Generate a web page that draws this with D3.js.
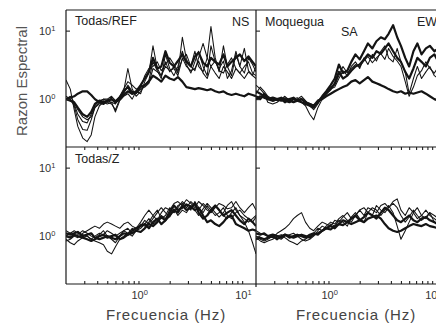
<!DOCTYPE html>
<html>
<head>
<meta charset="utf-8">
<script src="https://cdn.jsdelivr.net/npm/d3@7"></script>
<style>
body { margin: 0; background: #fff; }
svg { display: block; }
</style>
</head>
<body>
<script>
// frecuencias (Hz) comunes a todas las curvas
let frecuencias = [0.20, 0.22, 0.24, 0.26, 0.29, 0.32, 0.35, 0.38, 0.42, 0.46, 0.50, 0.55, 0.60, 0.66, 0.72, 0.79, 0.87, 0.95,
    1.05, 1.15, 1.26, 1.38, 1.52, 1.66, 1.82, 2.0, 2.2, 2.4, 2.65, 2.9, 3.2, 3.5, 3.8, 4.2, 4.6, 5.0, 5.5, 6.0, 6.6, 7.2,
    7.9, 8.7, 9.5, 10.5, 11.5, 12.6, 13.6];

// Todas/REF  (NS)
let ref1 = [1.9, 1.4, 0.7, 0.4, 0.27, 0.24, 0.3, 0.55, 0.8, 0.9, 0.85, 0.9, 0.65, 0.95, 1.1, 1.2, 1.0, 1.3, 1.2, 1.8, 2.4, 6.0, 2.8, 2.2, 3.5, 2.5, 3.0, 2.4, 8.0, 3.8, 3.0, 5.0, 3.0, 2.5, 4.0, 11.5, 4.0, 2.5, 6.0, 3.0, 2.2, 4.5, 3.0, 5.5, 2.6, 2.2, 3.0];
let ref2 = [1.1, 1.0, 0.8, 0.5, 0.36, 0.35, 0.5, 0.75, 0.85, 0.95, 0.9, 0.85, 0.7, 1.0, 1.3, 2.8, 1.4, 1.1, 1.3, 1.6, 1.9, 3.5, 2.6, 2.0, 4.5, 2.8, 2.2, 3.0, 5.0, 3.2, 2.4, 3.5, 5.0, 3.0, 2.2, 6.0, 3.5, 2.8, 3.6, 2.0, 2.6, 5.0, 3.0, 2.4, 4.0, 3.2, 2.5];
let ref3 = [1.0, 0.95, 0.85, 0.6, 0.47, 0.45, 0.6, 0.8, 0.95, 1.0, 0.95, 0.9, 0.85, 1.1, 1.2, 1.6, 1.3, 1.2, 1.4, 1.5, 1.7, 2.8, 2.5, 2.2, 3.0, 2.6, 2.8, 2.2, 4.0, 3.0, 2.6, 2.8, 3.6, 2.4, 2.0, 3.0, 2.4, 2.0, 3.0, 2.5, 2.0, 2.8, 2.4, 2.0, 2.5, 2.2, 2.0];
let ref4 = [1.0, 0.95, 0.9, 0.75, 0.6, 0.55, 0.65, 0.85, 0.95, 0.9, 0.95, 1.0, 0.9, 1.05, 1.3, 1.5, 1.2, 1.3, 1.6, 2.0, 2.5, 4.0, 2.8, 3.0, 5.0, 3.4, 3.0, 3.6, 4.5, 3.5, 3.0, 4.2, 4.8, 3.4, 3.0, 4.0, 3.5, 3.2, 4.5, 3.0, 3.5, 4.0, 4.5, 3.6, 4.2, 3.5, 3.0];
let ref5 = [1.0, 1.05, 1.1, 1.2, 1.3, 1.3, 1.15, 1.0, 0.9, 0.85, 0.95, 1.0, 0.9, 1.0, 1.15, 1.3, 1.2, 1.25, 1.5, 1.6, 1.8, 2.2, 2.0, 1.8, 2.2, 2.0, 1.9, 2.1, 1.8, 1.5, 1.45, 1.4, 1.45, 1.4, 1.35, 1.4, 1.3, 1.25, 1.3, 1.2, 1.15, 1.2, 1.15, 1.1, 1.2, 1.15, 1.1];
let ref6 = [1.0, 1.1, 0.9, 0.7, 0.55, 0.5, 0.55, 0.75, 0.9, 1.0, 1.0, 1.1, 0.95, 1.1, 1.4, 1.8, 1.6, 1.4, 1.5, 2.2, 2.8, 3.0, 3.5, 2.6, 3.2, 4.0, 3.2, 2.6, 3.8, 4.5, 3.0, 2.6, 4.0, 6.5, 4.0, 3.0, 3.6, 2.6, 2.4, 3.2, 4.0, 2.8, 2.4, 3.0, 3.5, 2.4, 2.2];

// Moquegua  SA  (EW)
let moq1 = [1.3, 1.2, 1.1, 1.0, 1.05, 1.0, 0.95, 1.0, 0.95, 0.9, 0.95, 1.0, 0.9, 0.85, 0.8, 0.95, 1.0, 1.1, 1.2, 1.3, 1.4, 1.5, 1.6, 1.8, 1.9, 1.7, 1.9, 2.1, 1.8, 1.7, 1.6, 1.5, 1.4, 1.3, 1.25, 1.3, 1.2, 1.25, 1.2, 1.25, 1.3, 1.2, 1.1, 1.0, 0.95, 0.9, 0.85];
let moq2 = [1.0, 1.1, 1.05, 1.0, 0.95, 1.0, 1.05, 0.95, 0.9, 1.0, 0.95, 0.9, 0.85, 0.8, 0.75, 0.9, 1.1, 1.3, 1.6, 2.0, 3.2, 2.4, 2.6, 3.5, 4.5, 3.8, 5.0, 6.5, 5.5, 7.0, 8.0, 7.5, 9.0, 12.0, 8.0, 6.0, 4.0, 3.0, 5.0, 6.5, 4.5, 5.5, 6.0, 5.0, 5.5, 6.0, 5.0];
let moq3 = [1.6, 1.4, 1.2, 0.9, 0.85, 0.9, 1.0, 1.1, 0.95, 1.0, 1.05, 0.9, 0.8, 0.6, 0.5, 0.75, 1.0, 1.2, 1.4, 1.5, 2.0, 2.6, 2.2, 3.0, 3.5, 2.8, 4.0, 3.2, 4.5, 3.6, 5.0, 6.0, 4.0, 3.5, 5.5, 3.5, 2.5, 1.2, 2.0, 3.0, 2.0, 2.5, 3.0, 2.2, 2.0, 2.6, 2.4];
let moq4 = [1.2, 1.5, 1.3, 1.1, 1.0, 0.95, 1.0, 1.05, 1.0, 0.9, 1.0, 1.1, 0.95, 0.8, 0.7, 0.85, 1.1, 1.3, 1.5, 1.6, 2.2, 3.0, 2.4, 2.8, 3.2, 3.0, 3.6, 4.2, 3.4, 4.0, 4.6, 3.8, 5.5, 4.2, 3.6, 3.0, 1.8, 1.1, 1.5, 2.2, 2.6, 3.5, 2.8, 2.4, 3.0, 2.2, 2.0];
let moq5 = [1.1, 1.0, 1.2, 1.05, 0.95, 1.0, 1.0, 0.9, 1.0, 1.05, 0.95, 1.0, 0.9, 0.85, 0.8, 0.9, 1.05, 1.2, 1.4, 1.7, 2.5, 2.0, 2.2, 2.6, 3.0, 3.2, 3.8, 4.5, 4.0, 5.0, 4.6, 5.5, 6.5, 5.0, 4.0, 3.5, 2.5, 2.0, 2.8, 4.0, 3.5, 3.0, 4.0, 4.5, 3.5, 3.0, 3.2];

// Todas/Z
let z1 = [1.1, 1.05, 1.1, 1.15, 1.0, 1.05, 1.1, 0.95, 0.9, 0.95, 1.0, 0.95, 0.9, 1.0, 1.1, 1.05, 1.2, 1.3, 1.4, 1.5, 1.3, 1.6, 1.8, 1.5, 1.7, 2.2, 2.8, 2.4, 2.6, 2.9, 2.7, 2.4, 2.6, 2.0, 1.6, 1.7, 1.5, 1.4, 1.6, 1.9, 2.0, 1.5, 1.4, 1.3, 1.2, 1.25, 1.2];
let z2 = [0.9, 0.8, 0.75, 0.85, 0.95, 1.0, 0.9, 0.85, 0.8, 0.75, 0.6, 0.55, 0.7, 0.9, 1.0, 1.1, 1.0, 1.2, 1.3, 1.5, 1.8, 1.5, 1.7, 2.0, 1.8, 2.4, 2.2, 2.8, 3.0, 2.6, 3.2, 2.8, 2.4, 3.0, 2.6, 2.2, 2.8, 2.4, 2.0, 1.8, 2.2, 2.6, 2.0, 1.6, 1.2, 0.8, 0.55];
let z3 = [1.0, 1.1, 1.0, 0.95, 1.1, 1.2, 1.3, 1.4, 1.3, 1.5, 1.6, 1.5, 1.4, 1.3, 1.5, 1.6, 1.4, 1.3, 1.6, 2.0, 2.4, 2.0, 1.7, 2.2, 2.6, 2.4, 3.0, 3.2, 2.8, 3.4, 3.0, 2.6, 3.2, 2.8, 2.4, 2.2, 2.6, 3.0, 2.8, 2.5, 2.6, 3.2, 2.6, 2.2, 2.6, 3.0, 2.4];
let z4 = [1.2, 1.1, 1.2, 1.1, 1.05, 1.0, 0.9, 1.0, 1.1, 1.05, 1.2, 1.1, 1.0, 1.1, 1.2, 1.1, 1.3, 1.2, 1.5, 1.4, 1.6, 2.0, 2.4, 1.8, 2.0, 2.6, 2.2, 2.6, 3.2, 2.8, 2.4, 3.2, 2.6, 2.2, 2.8, 2.4, 2.0, 2.2, 2.6, 2.0, 1.8, 2.2, 2.4, 2.0, 1.8, 1.6, 1.9];
let z5 = [1.0, 0.95, 1.05, 1.0, 0.95, 0.9, 0.85, 0.9, 1.0, 1.05, 0.95, 1.0, 1.05, 0.9, 0.95, 1.05, 1.1, 1.2, 1.15, 1.3, 1.5, 1.4, 1.6, 1.9, 1.7, 2.0, 2.4, 2.2, 2.8, 2.4, 2.6, 3.0, 2.2, 1.8, 2.0, 2.4, 2.8, 2.4, 2.0, 2.2, 2.4, 2.0, 1.7, 1.5, 1.8, 1.6, 1.4];
let z6 = [0.85, 0.9, 1.0, 1.05, 1.2, 1.1, 1.0, 0.95, 1.05, 1.2, 1.0, 0.9, 0.8, 1.0, 1.2, 1.3, 1.1, 1.2, 1.4, 1.7, 1.5, 1.8, 2.2, 2.6, 2.2, 1.9, 2.5, 2.0, 2.4, 2.2, 2.8, 2.4, 2.0, 2.5, 3.0, 2.6, 2.2, 1.9, 2.2, 2.8, 3.2, 2.4, 2.0, 1.8, 1.6, 1.8, 2.0];

// Moquegua / Z
let mz1 = [1.1, 1.05, 1.1, 1.0, 1.05, 1.0, 0.95, 1.05, 1.0, 0.95, 1.0, 1.05, 1.0, 0.95, 1.05, 1.1, 1.2, 1.3, 1.25, 1.4, 1.5, 1.45, 1.6, 1.5, 1.6, 1.7, 1.6, 1.8, 1.9, 2.0, 1.8, 1.5, 1.3, 1.2, 1.15, 1.2, 1.3, 1.4, 1.5, 1.45, 1.4, 1.5, 1.4, 1.35, 1.3, 1.4, 1.3];
let mz2 = [1.2, 1.1, 1.05, 1.0, 0.95, 1.1, 1.2, 1.3, 1.5, 1.8, 2.0, 2.2, 1.6, 1.3, 1.2, 1.4, 1.6, 1.5, 1.4, 1.7, 1.6, 1.9, 2.2, 1.8, 2.0, 2.4, 2.0, 2.6, 2.4, 2.2, 2.8, 3.0, 2.6, 3.2, 3.5, 2.4, 2.0, 2.6, 2.2, 1.8, 2.0, 2.4, 2.0, 1.8, 1.6, 1.9, 1.7];
let mz3 = [1.0, 0.9, 0.85, 0.9, 1.0, 0.95, 0.9, 1.0, 1.05, 1.1, 1.0, 0.9, 0.85, 0.9, 1.0, 1.2, 1.4, 1.3, 1.5, 1.4, 1.7, 1.6, 1.4, 1.9, 2.2, 1.8, 1.6, 2.2, 2.6, 2.4, 2.0, 2.4, 2.8, 2.2, 1.4, 0.9, 1.2, 1.6, 2.2, 2.6, 2.0, 1.8, 2.2, 1.6, 1.4, 1.2, 1.5];
let mz4 = [0.95, 0.85, 0.8, 0.85, 0.9, 1.0, 1.05, 0.95, 0.85, 0.8, 0.75, 0.85, 0.9, 1.0, 1.1, 1.3, 1.2, 1.4, 1.6, 1.5, 1.8, 2.0, 1.7, 1.6, 2.0, 2.4, 2.6, 2.2, 2.0, 2.8, 2.4, 2.2, 2.6, 3.0, 2.6, 2.0, 1.6, 1.9, 2.4, 2.0, 1.7, 1.9, 2.2, 2.0, 1.8, 1.6, 1.8];
let mz5 = [0.9, 0.95, 0.9, 0.95, 1.0, 0.9, 1.0, 1.05, 0.95, 1.0, 1.05, 1.0, 0.95, 1.05, 1.1, 1.05, 1.2, 1.3, 1.4, 1.3, 1.5, 1.7, 1.6, 1.8, 2.0, 1.7, 1.9, 2.2, 2.0, 1.8, 2.2, 2.6, 2.4, 2.0, 1.7, 1.6, 1.8, 2.0, 1.7, 1.6, 1.8, 1.9, 1.7, 1.6, 1.5, 1.6, 1.5];

let ticksMenores = [0.3, 0.4, 0.5, 0.6, 0.7, 0.8, 0.9, 2, 3, 4, 5, 6, 7, 8, 9];
let ticksY = [1, 10];
let etiquetasX = [1, 10];

let w = 436;
let h = 324;
let anchoP = 190; // ancho de cada panel
let altoP = 137;
let izq = 66;
let arriba = 10;

let x = d3.scaleLog().domain([0.2, 13.6]).range([0, anchoP]);
let y = d3.scaleLog().domain([0.2, 20]).range([altoP, 0]);

let paneles = [
    { col: 0, fila: 0, series: [ref1, ref2, ref3, ref6, ref4, ref5], gruesas: [ref4, ref5], textos: [["Todas/REF", 9, 15], ["NS", 166, 16]] },
    { col: 1, fila: 0, series: [moq3, moq4, moq5, moq2, moq1], gruesas: [moq5, moq2, moq1], textos: [["Moquegua", 9, 16], ["SA", 85, 26], ["EW", 161, 16]] },
    { col: 0, fila: 1, series: [z2, z3, z4, z6, z1, z5], gruesas: [z1, z5], textos: [["Todas/Z", 9, 16]] },
    { col: 1, fila: 1, series: [mz2, mz3, mz4, mz1, mz5], gruesas: [mz1, mz5], textos: [] }
];

let svg = d3.select("body").append("svg")
    .attr("width", w)
    .attr("height", h)
    .style("font-family", "'Liberation Sans', Arial, sans-serif");

let linea = d3.line()
    .x((d, i) => x(frecuencias[i]))
    .y((d) => y(d));

paneles.forEach((p, k) => {
    let g = svg.append("g")
        .attr("transform", `translate(${izq + p.col * anchoP},${arriba + p.fila * altoP})`);

    g.append("clipPath").attr("id", "clip" + k)
        .append("rect").attr("width", anchoP).attr("height", altoP);

    g.append("g").attr("clip-path", `url(#clip${k})`)
        .selectAll("path")
        .data(p.series)
        .enter()
        .append("path")
        .attr("d", linea)
        .attr("fill", "none")
        .attr("stroke", "#141414")
        .attr("stroke-linejoin", "round")
        .attr("stroke-width", (d) => p.gruesas.includes(d) ? 2.2 : 1.05);

    // eje x: ticks hacia abajo en la fila de arriba, hacia arriba en la de abajo
    let ejeX = (p.fila == 0 ? d3.axisBottom(x) : d3.axisTop(x))
        .tickValues(ticksMenores.concat(etiquetasX))
        .tickSize(3)
        .tickFormat("");
    g.append("g")
        .attr("transform", `translate(0,${altoP})`)
        .call(ejeX);

    let ejeY = d3.axisRight(y).tickValues(ticksY).tickSize(4).tickFormat("");
    g.append("g").call(ejeY);

    g.selectAll(".domain").remove();
    g.selectAll(".tick line").attr("stroke", "#222").attr("stroke-width", 1.1);

    g.selectAll("text.etq")
        .data(p.textos)
        .enter()
        .append("text")
        .attr("class", "etq")
        .attr("x", (d) => d[1])
        .attr("y", (d) => d[2])
        .attr("font-size", 12.5)
        .attr("fill", "#222")
        .text((d) => d[0]);

    // etiquetas 10^n solo en la columna izquierda
    if (p.col == 0) {
        let ty = g.selectAll("text.ty")
            .data(ticksY)
            .enter()
            .append("text")
            .attr("class", "ty")
            .attr("x", -27)
            .attr("y", (d) => y(d) + 4)
            .attr("font-size", 11)
            .attr("fill", "#333");
        ty.append("tspan").text("10");
        ty.append("tspan").attr("dy", -4).attr("font-size", 7.5).text((d) => Math.round(Math.log10(d)));
    }
    if (p.fila == 1) {
        let tx = g.selectAll("text.tx")
            .data(etiquetasX)
            .enter()
            .append("text")
            .attr("class", "tx")
            .attr("x", (d) => x(d) - 7)
            .attr("y", altoP + 15)
            .attr("font-size", 11)
            .attr("fill", "#333");
        tx.append("tspan").text("10");
        tx.append("tspan").attr("dy", -4).attr("font-size", 7.5).text((d) => Math.round(Math.log10(d)));

        svg.append("text")
            .attr("x", izq + p.col * anchoP + anchoP / 2 + 5)
            .attr("y", 320)
            .attr("text-anchor", "middle")
            .attr("font-size", 15)
            .attr("letter-spacing", 0.9)
            .attr("fill", "#444")
            .text("Frecuencia  (Hz)");
    }
});

// marco
let marco = svg.append("g").attr("stroke", "#1a1a1a").attr("stroke-width", 1.2);
marco.append("line").attr("x1", izq).attr("x2", w).attr("y1", arriba).attr("y2", arriba);
marco.append("line").attr("x1", izq).attr("x2", w).attr("y1", arriba + altoP).attr("y2", arriba + altoP);
marco.append("line").attr("x1", izq).attr("x2", w).attr("y1", arriba + 2 * altoP).attr("y2", arriba + 2 * altoP);
marco.append("line").attr("x1", izq).attr("x2", izq).attr("y1", arriba).attr("y2", arriba + 2 * altoP);
marco.append("line").attr("x1", izq + anchoP).attr("x2", izq + anchoP).attr("y1", arriba).attr("y2", arriba + 2 * altoP + 3);

svg.append("text")
    .attr("transform", "translate(27,81) rotate(-90)")
    .attr("text-anchor", "middle")
    .attr("font-size", 15)
    .attr("fill", "#555")
    .text("Razon  Espectral");
</script>
</body>
</html>
